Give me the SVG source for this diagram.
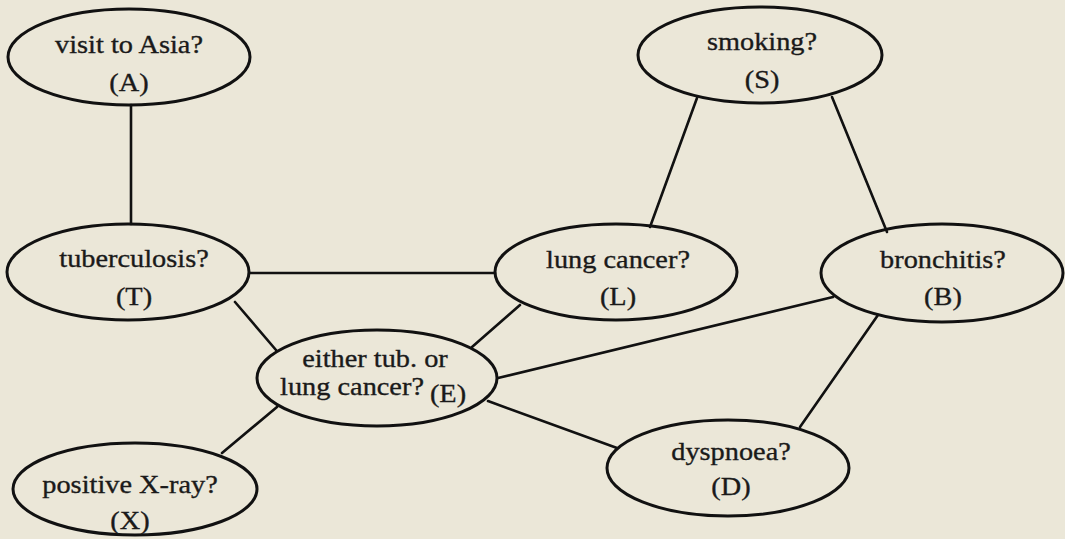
<svg xmlns="http://www.w3.org/2000/svg" width="1065" height="539" viewBox="0 0 1065 539">
<style>
.bg{fill:#EBE7D8}
.node ellipse{fill:none;stroke:#111;stroke-width:3}
.node text{font-family:"Liberation Serif","Times New Roman",serif;font-size:26px;fill:#1a1a1a;stroke:#1a1a1a;stroke-width:0.35;text-anchor:middle}
.edges line{stroke:#111;stroke-width:2.6;stroke-linecap:round}
</style>
<rect class="bg" x="0" y="0" width="1065" height="539"/>
<g id="connectors" class="edges">
<line x1="131" y1="105" x2="131" y2="224"/>
<line x1="697" y1="98" x2="650" y2="227"/>
<line x1="832" y1="97" x2="887" y2="232"/>
<line x1="250" y1="273" x2="495" y2="273"/>
<line x1="235" y1="302" x2="276" y2="350"/>
<line x1="520" y1="305" x2="472" y2="347"/>
<line x1="833" y1="297" x2="498" y2="378"/>
<line x1="488" y1="401" x2="617" y2="448"/>
<line x1="878" y1="315" x2="800" y2="427"/>
<line x1="277" y1="407" x2="222" y2="453"/>
</g>
<g id="node-A" class="node">
<ellipse cx="129" cy="57" rx="121" ry="48"/>
<g transform="translate(129 0) scale(1.09 1)"><text x="0" y="53">visit to Asia?</text><text x="0" y="91">(A)</text></g>
</g>
<g id="node-S" class="node">
<ellipse cx="760" cy="55" rx="122" ry="48"/>
<g transform="translate(762 0) scale(1.09 1)"><text x="0" y="50">smoking?</text><text x="0" y="88">(S)</text></g>
</g>
<g id="node-T" class="node">
<ellipse cx="128" cy="272" rx="121" ry="48"/>
<g transform="translate(134 0) scale(1.09 1)"><text x="0" y="267">tuberculosis?</text><text x="0" y="305">(T)</text></g>
</g>
<g id="node-L" class="node">
<ellipse cx="616" cy="272" rx="121" ry="48"/>
<g transform="translate(618 0) scale(1.09 1)"><text x="0" y="268">lung cancer?</text><text x="0" y="305">(L)</text></g>
</g>
<g id="node-B" class="node">
<ellipse cx="942" cy="273" rx="121" ry="49"/>
<g transform="translate(943 0) scale(1.09 1)"><text x="0" y="268">bronchitis?</text><text x="0" y="305">(B)</text></g>
</g>
<g id="node-E" class="node">
<ellipse cx="377" cy="378" rx="120" ry="48"/>
<g transform="translate(375 0) scale(1.09 1)"><text x="0" y="367">either tub. or</text></g>
<g transform="translate(352 0) scale(1.09 1)"><text x="0" y="395">lung cancer?</text></g>
<g transform="translate(448 0) scale(1.09 1)"><text x="0" y="402">(E)</text></g>
</g>
<g id="node-X" class="node">
<ellipse cx="135" cy="489" rx="122" ry="46"/>
<g transform="translate(130 0) scale(1.09 1)"><text x="0" y="493">positive X-ray?</text><text x="0" y="529">(X)</text></g>
</g>
<g id="node-D" class="node">
<ellipse cx="728" cy="468" rx="121" ry="48"/>
<g transform="translate(731 0) scale(1.09 1)"><text x="0" y="460">dyspnoea?</text><text x="0" y="495">(D)</text></g>
</g>
</svg>
